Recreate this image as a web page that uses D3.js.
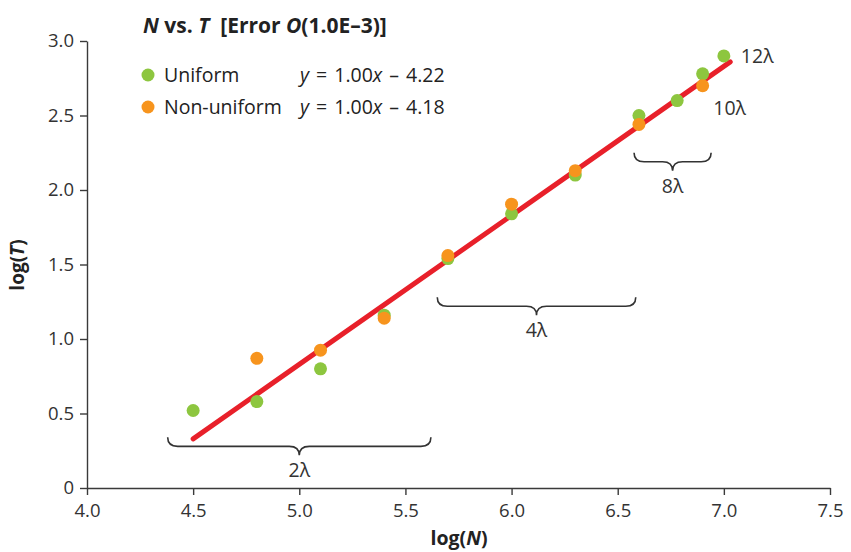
<!DOCTYPE html>
<html>
<head>
<meta charset="utf-8">
<script src="https://cdn.jsdelivr.net/npm/d3@7"></script>
<style>
body { margin: 0; background: #fff; }
svg { font-family: "Open Sans", "Noto Sans", sans-serif; }
svg text { white-space: pre; }
.axis path, .axis line { stroke: #3a3a3a; stroke-width: 1.4; }
.axis text { font-size: 18.5px; fill: #333; font-family: "Open Sans", sans-serif; }
</style>
</head>
<body>
<svg id="chart" width="851" height="552"></svg>
<script>
// data
const uniformN = [4.5, 4.8, 5.1, 5.4, 5.7, 6.0, 6.3, 6.6, 6.78, 6.9, 7.0];
const uniformT = [0.52, 0.58, 0.80, 1.16, 1.54, 1.84, 2.10, 2.50, 2.60, 2.78, 2.90];
const nonUniformN = [4.8, 5.1, 5.4, 5.7, 6.0, 6.3, 6.6, 6.9];
const nonUniformT = [0.87, 0.925, 1.14, 1.56, 1.905, 2.13, 2.44, 2.70];
const fitLine = [[4.5, 0.33], [7.03, 2.86]];
const xTicks = [4.0, 4.5, 5.0, 5.5, 6.0, 6.5, 7.0, 7.5];
const yTicks = [0, 0.5, 1.0, 1.5, 2.0, 2.5, 3.0];
// braces: [x0, x1, y (top), label]
const braces = [
    [4.38, 5.62, 0.34, "2λ"],
    [5.65, 6.585, 1.28, "4λ"],
    [6.577, 6.94, 2.25, "8λ"]
];
const pointLabels = [[7.08, 2.90, "12λ"], [6.95, 2.55, "10λ"]];
const legendNames = ["Uniform", "Non-uniform"];
const legendEqs = [["y", " = 1.00", "x", " – 4.22"], ["y", " = 1.00", "x", " – 4.18"]];

const green = "#8dc63f", orange = "#f7941d", red = "#e8202a";

const svg = d3.select("#chart");
const x = d3.scaleLinear().domain([4.0, 7.5]).range([87, 830]);
const y = d3.scaleLinear().domain([0, 3.0]).range([488, 41]);

// axes
svg.append("g")
    .attr("class", "axis")
    .attr("transform", `translate(0,${y(0)})`)
    .call(d3.axisBottom(x).tickValues(xTicks).tickSize(7).tickSizeOuter(0).tickPadding(5)
          .tickFormat(d3.format(".1f")))
    .selectAll("text").attr("dy", "0.9em");

svg.append("g")
    .attr("class", "axis")
    .attr("transform", `translate(${x(4.0)},0)`)
    .call(d3.axisLeft(y).tickValues(yTicks).tickSize(7).tickSizeOuter(0).tickPadding(6)
          .tickFormat((d) => d === 0 ? "0" : d3.format(".1f")(d)));

// axis titles
let xt = svg.append("text")
    .attr("x", 459).attr("y", 545)
    .attr("text-anchor", "middle")
    .style("font-size", "19.5px").style("font-weight", "bold").style("fill", "#222");
xt.append("tspan").text("log(");
xt.append("tspan").style("font-style", "italic").text("N");
xt.append("tspan").text(")");

let yt = svg.append("text")
    .attr("transform", "translate(24,265) rotate(-90)")
    .attr("text-anchor", "middle")
    .style("font-size", "19px").style("font-weight", "bold").style("fill", "#222");
yt.append("tspan").text("log(");
yt.append("tspan").style("font-style", "italic").text("T");
yt.append("tspan").text(")");

// title
let title = svg.append("text")
    .attr("x", 143).attr("y", 33)
    .style("font-size", "21px").style("font-weight", "bold").style("fill", "#222");
title.append("tspan").style("font-style", "italic").text("N");
title.append("tspan").text(" vs. ");
title.append("tspan").style("font-style", "italic").text("T");
title.append("tspan").text("  [Error ");
title.append("tspan").style("font-style", "italic").text("O");
title.append("tspan").text("(1.0E–3)]");

// legend
const legendColors = [green, orange];
legendNames.forEach(function(name, i) {
    const ly = 75 + i * 32;
    svg.append("circle").attr("cx", 148).attr("cy", ly).attr("r", 6.5)
        .style("fill", legendColors[i]);
    svg.append("text").attr("x", 164).attr("y", ly + 7)
        .style("font-size", "19.5px").style("fill", "#222").text(name);
    let eq = svg.append("text").attr("x", 300).attr("y", ly + 7)
        .style("font-size", "19.5px").style("fill", "#222")
        .style("word-spacing", "2px");
    legendEqs[i].forEach(function(part, j) {
        eq.append("tspan").style("font-style", j % 2 === 0 ? "italic" : "normal").text(part);
    });
});

// braces
function bracePath(x0, x1, top) {
    const h = 9, c = 5, mid = (x0 + x1) / 2;
    return `M${x0},${top} Q${x0},${top + h} ${x0 + c * 2},${top + h}` +
        ` L${mid - c * 2},${top + h} Q${mid},${top + h} ${mid},${top + h * 2}` +
        ` Q${mid},${top + h} ${mid + c * 2},${top + h}` +
        ` L${x1 - c * 2},${top + h} Q${x1},${top + h} ${x1},${top}`;
}
braces.forEach(function(b) {
    const x0 = x(b[0]), x1 = x(b[1]), top = y(b[2]);
    svg.append("path")
        .attr("d", bracePath(x0, x1, top))
        .style("fill", "none").style("stroke", "#333").style("stroke-width", 1.6);
    svg.append("text")
        .attr("x", (x0 + x1) / 2).attr("y", top + 40)
        .attr("text-anchor", "middle")
        .style("font-size", "19.5px").style("fill", "#333").text(b[3]);
});

pointLabels.forEach(function(p) {
    svg.append("text")
        .attr("x", x(p[0])).attr("y", y(p[1]) + 7)
        .style("font-size", "19.5px").style("fill", "#333").text(p[2]);
});

// fitted line
const line = d3.line().x((d) => x(d[0])).y((d) => y(d[1]));
svg.append("path")
    .attr("d", line(fitLine))
    .style("stroke", red).style("stroke-width", 5).style("fill", "none")
    .style("stroke-linecap", "round");

// points
svg.selectAll(".uni")
    .data(d3.zip(uniformN, uniformT))
    .enter().append("circle")
    .attr("class", "uni")
    .attr("cx", (d) => x(d[0])).attr("cy", (d) => y(d[1])).attr("r", 6.5)
    .style("fill", green);

svg.selectAll(".nonuni")
    .data(d3.zip(nonUniformN, nonUniformT))
    .enter().append("circle")
    .attr("class", "nonuni")
    .attr("cx", (d) => x(d[0])).attr("cy", (d) => y(d[1])).attr("r", 6.5)
    .style("fill", orange);
</script>
</body>
</html>
